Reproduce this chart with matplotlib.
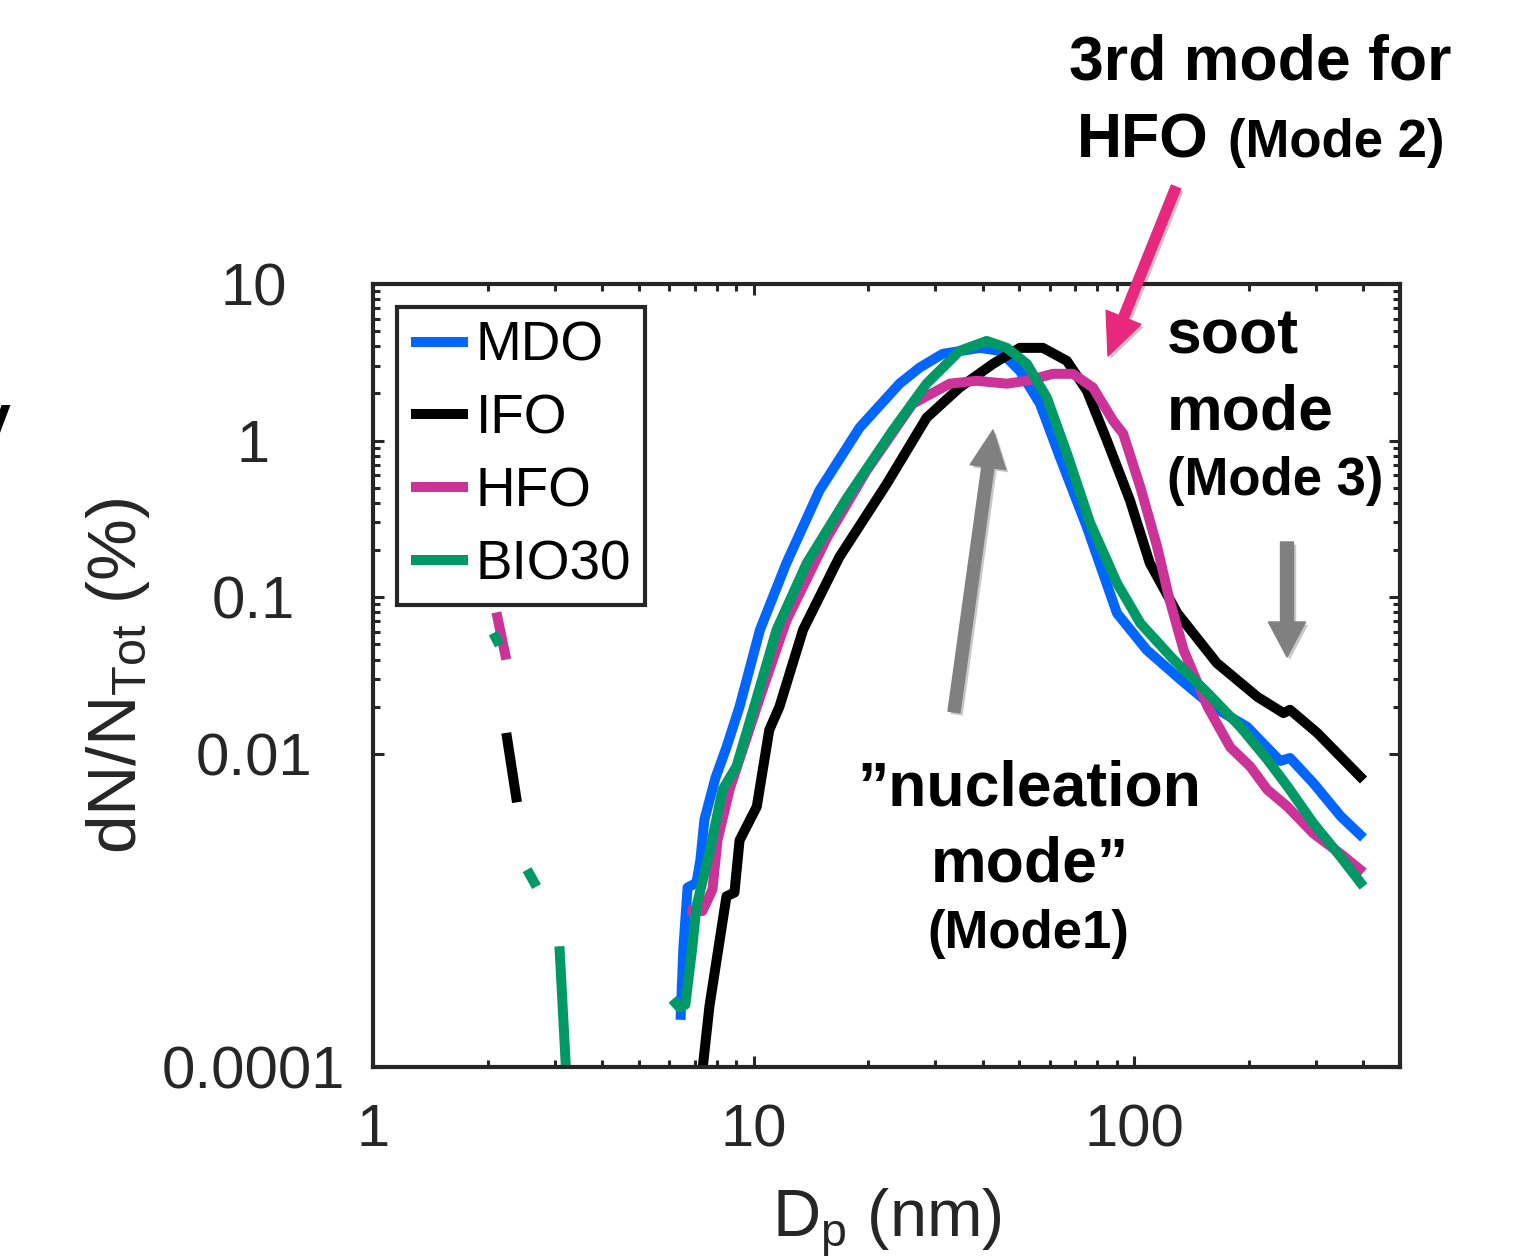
import matplotlib
matplotlib.use('Agg')
import matplotlib.pyplot as plt
import matplotlib.patheffects as pe

plt.rcParams['font.family'] = ['Liberation Sans', 'DejaVu Sans']
plt.rcParams['mathtext.default'] = 'regular'

# particle diameter (nm) and dN/Ntot (%)
d_mdo = [6.43, 6.54, 6.71, 7.08, 7.25, 7.43, 7.94, 8.49, 9.19, 10.4, 12.2, 14.9, 19.0, 24.2, 27.3,
         31.4, 39.3, 44.4, 50.1, 56.6, 63.9, 75.2, 90.2, 108, 132, 161, 198, 242, 257, 296, 349, 401]
n_mdo = [2.0e-4, 5.7e-4, 1.4e-3, 1.5e-3, 2.1e-3, 3.8e-3, 7.0e-3, 0.011, 0.020, 0.062, 0.165, 0.48,
         1.21, 2.31, 2.92, 3.58, 3.91, 3.74, 2.79, 1.72, 0.78, 0.28, 0.079, 0.046, 0.030, 0.020,
         0.0149, 0.0090, 0.0094, 0.0065, 0.0040, 0.0029]

d_ifo = [7.30, 7.66, 8.49, 8.91, 9.19, 10.2, 11.0, 11.7, 13.5, 16.8, 22.4, 28.5, 34.8, 42.6,
         50.1, 57.6, 66.6, 75.2, 84.9, 97.6, 110, 130, 165, 211, 247, 257, 303, 401]
n_ifo = [8.4e-5, 2.45e-4, 1.23e-3, 1.30e-3, 2.8e-3, 4.6e-3, 0.0142, 0.020, 0.062, 0.18, 0.53,
         1.40, 2.18, 3.09, 3.91, 3.91, 3.23, 2.08, 1.0, 0.415, 0.165, 0.079, 0.038, 0.0231,
         0.0182, 0.0191, 0.0136, 0.0068]

d_hfo = [6.71, 7.34, 7.80, 8.04, 8.65, 10.4, 12.2, 15.6, 19.8, 26.2, 32.8, 38.6, 46.3, 52.3,
         61.2, 69.1, 78.0, 88.1, 93.6, 104, 115, 124, 135, 156, 179, 202, 224, 253, 296, 349, 401]
n_hfo = [1.0e-3, 9.9e-4, 1.36e-3, 2.8e-3, 5.9e-3, 0.023, 0.071, 0.24, 0.64, 1.72, 2.31, 2.41,
         2.31, 2.41, 2.67, 2.67, 2.18, 1.34, 1.11, 0.50, 0.21, 0.096, 0.046, 0.020, 0.011,
         0.0083, 0.0059, 0.0046, 0.0031, 0.0023, 0.00175]

d_bio = [6.12, 6.39, 6.62, 6.91, 7.08, 7.66, 8.29, 9.02, 10.1, 11.5, 13.8, 17.6, 23.2, 28.5,
         34.8, 41.0, 46.3, 52.3, 59.0, 66.6, 76.6, 90.2, 104, 127, 156, 190, 224, 253, 296, 349, 401]
n_bio = [2.7e-4, 2.4e-4, 2.5e-4, 5.9e-4, 1.06e-3, 2.34e-3, 5.9e-3, 8.3e-3, 0.021, 0.062, 0.165,
         0.43, 1.16, 2.31, 3.74, 4.33, 3.91, 3.09, 1.88, 0.83, 0.30, 0.123, 0.068, 0.040, 0.0245,
         0.0149, 0.0092, 0.0062, 0.0036, 0.0022, 0.00142]

# loose pieces of curves at small diameters
frag_hfo = ([2.11, 2.24], [0.080, 0.040])
frag_ifo = ([2.24, 2.39], [0.0136, 0.0049])
frag_bio = [([2.07, 2.15], [0.059, 0.0495]),
            ([2.54, 2.69], [1.82e-3, 1.42e-3]),
            ([3.09, 3.22], [5.9e-4, 9e-5])]

xticks = [1, 10, 100]
xticklabels = ['1', '10', '100']
yticks = [1e-4, 1e-2, 1e-1, 1, 10]
yticklabels = ['0.0001', '0.01', '0.1', '1', '10']

c_mdo, c_ifo, c_hfo, c_bio = '#0066ff', '#000000', '#cc3399', '#009966'
grey = '#262626'
W, H = 1521, 1258

fig = plt.figure(figsize=(W / 100, H / 100), dpi=100)
ax = fig.add_axes([373 / W, 1 - 1067 / H, (1400 - 373) / W, (1067 - 284) / H])

lw = 7.2
ax.plot(*frag_hfo, color=c_hfo, lw=lw, solid_capstyle='butt')
ax.plot(*frag_ifo, color=c_ifo, lw=lw, solid_capstyle='butt')
for fx, fy in frag_bio:
    ax.plot(fx, fy, color=c_bio, lw=lw, solid_capstyle='butt')

kw = dict(lw=lw, solid_joinstyle='round', solid_capstyle='butt')
ax.plot(d_mdo, n_mdo, color=c_mdo, label='MDO', **kw)
ax.plot(d_ifo, n_ifo, color=c_ifo, label='IFO', **kw)
ax.plot(d_hfo, n_hfo, color=c_hfo, label='HFO', **kw)
ax.plot(d_bio, n_bio, color=c_bio, label='BIO30', **kw)

ax.set_xscale('log')
ax.set_yscale('log')
ax.set_xlim(1, 500)
ax.set_ylim(1e-4, 10)

ax.set_xticks(xticks)
ax.set_xticklabels(xticklabels)
ax.set_xticks([k * 10 ** e for e in (0, 1) for k in range(2, 10)] + [200, 300, 400], minor=True)
ax.set_yticks(yticks)
ax.set_yticklabels(yticklabels)
ax.set_yticks([k * 10 ** e for e in (-2, -1, 0) for k in range(2, 10)], minor=True)
ax.xaxis.set_minor_formatter(plt.NullFormatter())
ax.yaxis.set_minor_formatter(plt.NullFormatter())

ax.tick_params(which='both', direction='in', top=True, right=True, width=2.2, color=grey,
               labelsize=43, labelcolor=grey)
ax.tick_params(which='major', length=8)
ax.tick_params(which='minor', length=5)
ax.tick_params(axis='x', pad=26)
ax.tick_params(axis='y', pad=86)
plt.setp(ax.get_yticklabels(), ha='center')
for s in ax.spines.values():
    s.set_linewidth(3)
    s.set_color(grey)

ax.set_xlabel('D$_{p}$ (nm)', fontsize=48, color=grey)
ax.xaxis.set_label_coords(0.5, -0.152)
ax.set_ylabel('dN/N$_{Tot}$ (%)', fontsize=50, color=grey)
ax.yaxis.set_label_coords(-0.215, 0.5)

leg = ax.legend(loc='upper left', bbox_to_anchor=(24 / 1027, 1 - 23 / 783), borderaxespad=0,
                fontsize=39.5, fancybox=False, edgecolor=grey, framealpha=1,
                handlelength=1.05, handletextpad=0.13, borderpad=0.25, labelspacing=0.38)
leg.get_frame().set_linewidth(3)


def note(px, py, s, size, ha='left'):
    fig.text(px / W, 1 - py / H, s, fontsize=size, fontweight='bold', ha=ha, va='baseline')


note(1260, 80, '3rd mode for', 45, ha='center')
note(1077, 157, 'HFO', 45)
note(1228, 157, '(Mode 2)', 38)
note(1167, 353, 'soot', 45)
note(1167, 430, 'mode', 45)
note(1167, 495, '(Mode 3)', 38)
note(1029, 805, '\u201dnucleation', 45, ha='center')
note(1030, 882, 'mode\u201d', 45, ha='center')
note(1028, 948, '(Mode1)', 38, ha='center')
note(10, 438, 'y', 45, ha='right')


def arrow(tail, tip, hl, hw, tw, color):
    ax.annotate('', xy=(tip[0] / W, 1 - tip[1] / H), xycoords='figure fraction',
                xytext=(tail[0] / W, 1 - tail[1] / H), textcoords='figure fraction',
                arrowprops=dict(arrowstyle='simple,head_length=%g,head_width=%g,tail_width=%g' % (hl, hw, tw),
                                mutation_scale=30, color=color, shrinkA=0, shrinkB=0,
                                path_effects=[pe.SimplePatchShadow(offset=(2, -2), alpha=0.25),
                                              pe.Normal()]))


arrow((1176, 187), (1108, 356), 1.0, 0.9, 0.24, '#e8287c')
arrow((954, 712), (993, 430), 0.9, 0.86, 0.29, '#808080')
arrow((1287, 542), (1287, 657), 0.84, 0.89, 0.31, '#808080')

fig.savefig('out.png', dpi=100)
